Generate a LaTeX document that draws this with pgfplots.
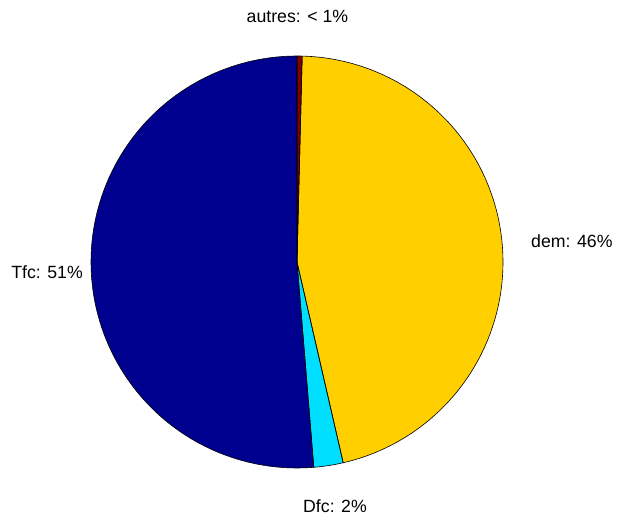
\documentclass[border=0pt]{standalone}
\usepackage{pgfplots}
\usepackage{pgfplotstable}
\pgfplotsset{compat=1.18}
\usepackage{fontspec}
\setmainfont{Liberation Sans}
\definecolor{cTfc}{RGB}{0,0,143}
\definecolor{cDfc}{RGB}{0,223,255}
\definecolor{cdem}{RGB}{255,207,0}
\definecolor{caut}{RGB}{128,0,0}
\pgfplotstableread{
name   value
Tfc    51.3
Dfc    2.3
dem    46.0
autres 0.4
}\piedata
\pgfplotstablegetelem{0}{value}\of\piedata \let\vA\pgfplotsretval
\pgfplotstablegetelem{1}{value}\of\piedata \let\vB\pgfplotsretval
\pgfplotstablegetelem{2}{value}\of\piedata \let\vC\pgfplotsretval
\pgfplotstablegetelem{3}{value}\of\piedata \let\vD\pgfplotsretval
\pgfmathsetmacro\sA{90}
\pgfmathsetmacro\eA{\sA+3.6*\vA}
\pgfmathsetmacro\eB{\eA+3.6*\vB}
\pgfmathsetmacro\eC{\eB+3.6*\vC}
\pgfmathsetmacro\eD{\eC+3.6*\vD}
\begin{document}
\fontsize{17.7}{21}\selectfont
\begin{tikzpicture}
\useasboundingbox (0,0) rectangle (618pt,517pt);
\begin{axis}[
  at={(0,0)}, anchor=south west,
  scale only axis, width=618pt, height=517pt,
  hide axis, clip=false,
  xmin=-1.44175, xmax=1.55825,
  ymin=-1.23786, ymax=1.27184,
]
\fill[cTfc] (0,0) -- plot[domain=\sA:\eA, samples=120, variable=\t] ({cos(\t)},{sin(\t)}) -- cycle;
\fill[cDfc] (0,0) -- plot[domain=\eA:\eB, samples=20, variable=\t] ({cos(\t)},{sin(\t)}) -- cycle;
\fill[cdem] (0,0) -- plot[domain=\eB:\eC, samples=120, variable=\t] ({cos(\t)},{sin(\t)}) -- cycle;
\fill[caut] (0,0) -- plot[domain=\eC:\eD, samples=10, variable=\t] ({cos(\t)},{sin(\t)}) -- cycle;
\draw[black, line width=0.6pt, line join=round] (0,0) -- plot[domain=\sA:\eA, samples=120, variable=\t] ({cos(\t)},{sin(\t)}) -- cycle;
\draw[black, line width=0.6pt, line join=round] (0,0) -- plot[domain=\eA:\eB, samples=20, variable=\t] ({cos(\t)},{sin(\t)}) -- cycle;
\draw[black, line width=0.6pt, line join=round] (0,0) -- plot[domain=\eB:\eC, samples=120, variable=\t] ({cos(\t)},{sin(\t)}) -- cycle;
\draw[black, line width=0.6pt, line join=round] (0,0) -- plot[domain=\eC:\eD, samples=10, variable=\t] ({cos(\t)},{sin(\t)}) -- cycle;
\node[anchor=base, inner sep=0pt] at (0.002,1.165) {autres: < 1\%};
\node[anchor=base west, inner sep=0pt] at (1.136,0.068) {dem: 46\%};
\node[anchor=base east, inner sep=0pt] at (-1.039,-0.0777) {Tfc: 51\%};
\node[anchor=base, inner sep=0pt] at (0.1845,-1.218) {Dfc: 2\%};
\end{axis}
\end{tikzpicture}
\end{document}
